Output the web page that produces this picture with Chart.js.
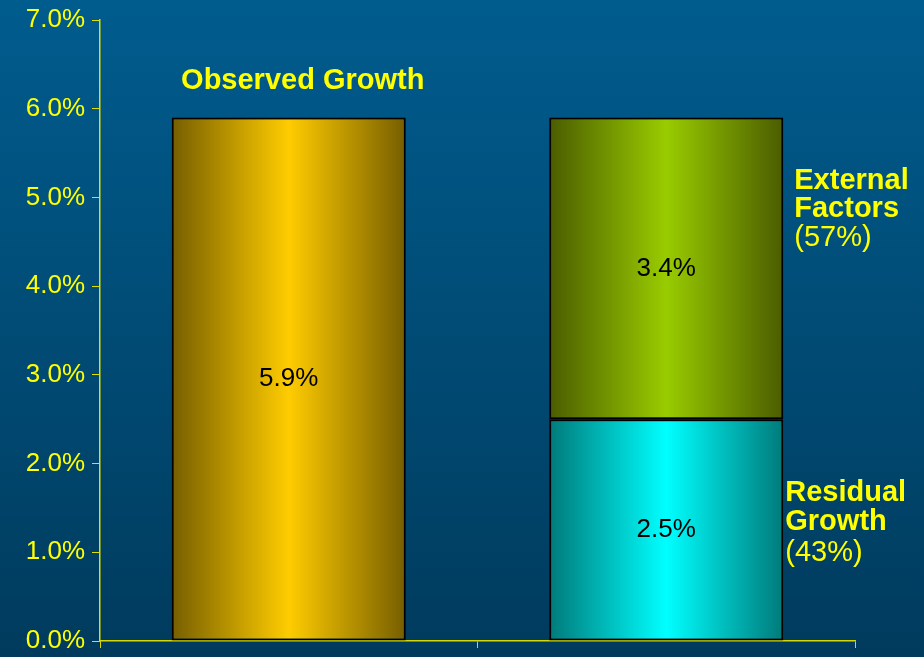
<!DOCTYPE html>
<html>
<head>
<meta charset="utf-8">
<script src="https://cdn.jsdelivr.net/npm/chart.js@4.4.1/dist/chart.umd.min.js"></script>
<style>
  html, body { margin: 0; padding: 0; background: #004a73; }
  #wrap { width: 924px; height: 657px; }
</style>
</head>
<body>
<div id="wrap"><canvas id="growthChart" width="924" height="657"></canvas></div>
<script>
// Daten
const categories = ['Observed', 'Decomposed'];
const observedGrowth = [5.9, null];
const residualGrowth = [null, 2.5];
const externalFactors = [null, 3.4];
const yTicks = [0, 1, 2, 3, 4, 5, 6, 7];

const YELLOW = '#ffff00';
const FONT = '"Liberation Sans", Arial, sans-serif';

// Horizontaler Verlauf dunkel-hell-dunkel pro Balken
function barGradient(edge, mid) {
    return function(ctx) {
        const chart = ctx.chart;
        const x = chart.scales.x;
        if (!chart.chartArea || !x) return mid;
        const center = x.getPixelForValue(ctx.dataIndex);
        const half = (x.width / categories.length) * 0.62 / 2;
        const g = chart.ctx.createLinearGradient(center - half, 0, center + half, 0);
        g.addColorStop(0, edge);
        g.addColorStop(0.5, mid);
        g.addColorStop(1, edge);
        return g;
    };
}

// Hintergrund
const backgroundPlugin = {
    id: 'background',
    beforeDraw(chart) {
        const { ctx, width, height } = chart;
        const g = ctx.createLinearGradient(0, 0, 0, height);
        g.addColorStop(0, '#005c8e');
        g.addColorStop(1, '#003b5d');
        ctx.save();
        ctx.fillStyle = g;
        ctx.fillRect(0, 0, width, height);
        ctx.restore();
    }
};

// Werte in den Balken und Beschriftungen daneben
const labelPlugin = {
    id: 'labels',
    afterDatasetsDraw(chart) {
        const { ctx } = chart;
        const y = chart.scales.y;
        ctx.save();
        ctx.textAlign = 'center';
        ctx.textBaseline = 'middle';
        ctx.fillStyle = '#000000';
        ctx.font = '26px ' + FONT;
        chart.data.datasets.forEach((ds, di) => {
            chart.getDatasetMeta(di).data.forEach((bar, i) => {
                if (ds.data[i] == null) return;
                const { x, y: top, base } = bar.getProps(['x', 'y', 'base'], true);
                ctx.fillText(ds.data[i].toFixed(1) + '%', x, (top + base) / 2);
            });
        });

        const bar1 = chart.getDatasetMeta(0).data[0];
        const bar2 = chart.getDatasetMeta(2).data[1];
        const right2 = bar2.x + bar2.width / 2;

        ctx.fillStyle = YELLOW;
        ctx.font = 'bold 29px ' + FONT;
        ctx.fillText('Observed Growth', bar1.x + 14, y.getPixelForValue(6.31));

        ctx.textAlign = 'left';
        ctx.fillText('External', right2 + 11, y.getPixelForValue(5.19));
        ctx.fillText('Factors', right2 + 11, y.getPixelForValue(4.87));
        ctx.fillText('Residual', right2 + 2, y.getPixelForValue(1.67));
        ctx.fillText('Growth', right2 + 2, y.getPixelForValue(1.34));
        ctx.font = '29px ' + FONT;
        ctx.fillText('(57%)', right2 + 11, y.getPixelForValue(4.54));
        ctx.fillText('(43%)', right2 + 2, y.getPixelForValue(0.99));
        ctx.restore();
    }
};

const barStyle = {
    borderColor: '#000000',
    borderWidth: 2,
    borderSkipped: false,
    barPercentage: 0.62,
    categoryPercentage: 1
};

new Chart(document.getElementById('growthChart'), {
    type: 'bar',
    data: {
        labels: categories,
        datasets: [
            { label: 'Observed Growth', data: observedGrowth,
              backgroundColor: barGradient('#765e00', '#ffcc00'), ...barStyle },
            { label: 'Residual Growth', data: residualGrowth,
              backgroundColor: barGradient('#007a7a', '#00ffff'), ...barStyle },
            { label: 'External Factors', data: externalFactors,
              backgroundColor: barGradient('#4b5c00', '#99cc00'), ...barStyle }
        ]
    },
    options: {
        responsive: false,
        animation: false,
        layout: { padding: { top: 20, right: 69, left: 0, bottom: 0 } },
        plugins: {
            legend: { display: false },
            tooltip: { enabled: false }
        },
        scales: {
            x: {
                stacked: true,
                offset: true,
                afterFit: s => { s.height = 16; },
                border: { color: '#d8d800', width: 1.5 },
                grid: { offset: true, drawOnChartArea: false, drawTicks: true,
                        tickLength: 7, tickColor: '#d8d800' },
                ticks: { display: false }
            },
            y: {
                stacked: true,
                min: 0,
                max: 7,
                afterFit: s => { s.width = 100; s.paddingTop = 0; s.paddingBottom = 0; },
                afterBuildTicks: s => { s.ticks = yTicks.map(v => ({ value: v })); },
                border: { color: '#e0e000', width: 1.5 },
                grid: { drawOnChartArea: false, tickLength: 8, tickColor: '#e0e000' },
                ticks: {
                    color: YELLOW,
                    padding: 7,
                    font: { family: FONT, size: 26 },
                    callback: v => v.toFixed(1) + '%'
                }
            }
        }
    },
    plugins: [backgroundPlugin, labelPlugin]
});
</script>
</body>
</html>
